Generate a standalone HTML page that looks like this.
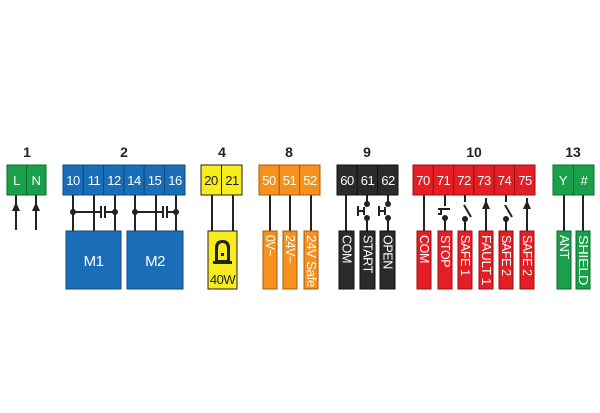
<!DOCTYPE html>
<html><head><meta charset="utf-8"><style>
html,body{margin:0;padding:0;background:#fff;}
svg{display:block;font-family:"Liberation Sans",sans-serif;}
</style></head><body>
<svg width="600" height="413" viewBox="0 0 600 413" xmlns="http://www.w3.org/2000/svg">
<g font-weight="bold" font-size="14" fill="#222" text-anchor="middle">
<text x="27" y="157">1</text><text x="124" y="157">2</text><text x="222" y="157">4</text>
<text x="289" y="157">8</text><text x="367" y="157">9</text><text x="474" y="157">10</text><text x="573" y="157">13</text>
</g>
<g stroke="#222" stroke-width="2" fill="none">
<line x1="16" y1="195" x2="16" y2="230"/><line x1="36" y1="195" x2="36" y2="230"/>
<line x1="73" y1="195" x2="73" y2="231"/><line x1="94" y1="195" x2="94" y2="231"/><line x1="115" y1="195" x2="115" y2="231"/>
<line x1="135" y1="195" x2="135" y2="231"/><line x1="156" y1="195" x2="156" y2="231"/><line x1="176" y1="195" x2="176" y2="231"/>
<path d="M73 212H101M105 212H115M101 206V218M105 206V218"/>
<path d="M135 212H163M167 212H176M163 206V218M167 206V218"/>
<line x1="212" y1="195" x2="212" y2="231"/><line x1="233" y1="195" x2="233" y2="231"/>
<line x1="270" y1="195" x2="270" y2="231"/><line x1="290" y1="195" x2="290" y2="231"/><line x1="311" y1="195" x2="311" y2="231"/>
<line x1="346" y1="195" x2="346" y2="231"/>
<path d="M367 195V204M367 218V231M388 195V204M388 218V231"/>
<path d="M358 206V216M358 211H364M364 207V215M379 206V216M379 211H385M385 207V215"/>
<line x1="424" y1="195" x2="424" y2="231"/>
<path d="M445 195V206M445 218V231M438 209H450M441 209V215M438 214H442"/>
<path d="M465 195V202M465 219V231M464 205L471 217"/>
<line x1="486" y1="198" x2="486" y2="231"/>
<path d="M506 195V202M506 219V231M505 205L512 217"/>
<line x1="527" y1="198" x2="527" y2="231"/>
<line x1="564" y1="195" x2="564" y2="231"/><line x1="583" y1="195" x2="583" y2="231"/>
</g>
<g fill="#222">
<polygon points="16,202 12,211 20,211"/><polygon points="36,202 32,211 40,211"/>
<polygon points="486,200 482,209 490,209"/><polygon points="527,200 523,209 531,209"/>
<circle cx="73" cy="212" r="3"/><circle cx="115" cy="212" r="3"/><circle cx="135" cy="212" r="3"/><circle cx="176" cy="212" r="3"/>
<circle cx="367" cy="204" r="3"/><circle cx="367" cy="218" r="3"/><circle cx="388" cy="204" r="3"/><circle cx="388" cy="218" r="3"/>
<circle cx="445" cy="218" r="3"/><circle cx="465" cy="219" r="3"/><circle cx="506" cy="219" r="3"/>
</g>
<g stroke-width="1">
<g fill="#1aa04a" stroke="#0d6b2e"><rect x="7" y="165" width="19.5" height="30"/><rect x="26.5" y="165" width="19.5" height="30"/>
<rect x="553" y="165" width="20.5" height="30"/><rect x="573.5" y="165" width="20.5" height="30"/></g>
<g fill="#1a6eb8" stroke="#0d4a80"><rect x="63" y="165" width="20.3" height="30"/><rect x="83.3" y="165" width="20.3" height="30"/><rect x="103.6" y="165" width="20.3" height="30"/><rect x="123.9" y="165" width="20.3" height="30"/><rect x="144.2" y="165" width="20.3" height="30"/><rect x="164.5" y="165" width="20.5" height="30"/>
<rect x="66" y="231" width="55" height="58"/><rect x="127" y="231" width="56" height="58"/></g>
<g fill="#f6ec1e" stroke="#222"><rect x="201" y="165" width="20.5" height="30"/><rect x="221.5" y="165" width="20.5" height="30"/><rect x="208" y="231" width="29" height="58"/></g>
<g fill="#f5921e" stroke="#a85a0a"><rect x="259" y="165" width="20.3" height="30"/><rect x="279.3" y="165" width="20.3" height="30"/><rect x="299.6" y="165" width="20.4" height="30"/>
<rect x="263" y="231" width="14" height="58"/><rect x="283" y="231" width="14" height="58"/><rect x="304" y="231" width="14" height="58"/></g>
<g fill="#2b2b2b" stroke="#111"><rect x="337" y="165" width="20.3" height="30"/><rect x="357.3" y="165" width="20.3" height="30"/><rect x="377.6" y="165" width="20.4" height="30"/>
<rect x="339" y="231" width="15" height="58"/><rect x="360" y="231" width="15" height="58"/><rect x="380" y="231" width="15" height="58"/></g>
<g fill="#e31e24" stroke="#9a0d10"><rect x="413" y="165" width="20.3" height="30"/><rect x="433.3" y="165" width="20.3" height="30"/><rect x="453.6" y="165" width="20.3" height="30"/><rect x="473.9" y="165" width="20.3" height="30"/><rect x="494.2" y="165" width="20.3" height="30"/><rect x="514.5" y="165" width="20.5" height="30"/>
<rect x="417" y="231" width="14" height="58"/><rect x="438" y="231" width="14" height="58"/><rect x="458" y="231" width="14" height="58"/><rect x="479" y="231" width="14" height="58"/><rect x="499" y="231" width="14" height="58"/><rect x="520" y="231" width="14" height="58"/></g>
<g fill="#1aa04a" stroke="#0d6b2e"><rect x="557" y="231" width="14" height="58"/><rect x="576" y="231" width="14" height="58"/></g>
</g>
<g font-size="13" text-anchor="middle" fill="#fff" letter-spacing="-0.5">
<text x="16.5" y="185">L</text><text x="36" y="185">N</text>
<text x="73" y="185">10</text><text x="94" y="185">11</text><text x="114" y="185">12</text><text x="134" y="185">14</text><text x="154.5" y="185">15</text><text x="175" y="185">16</text>
<text x="93.5" y="266" font-size="15">M1</text><text x="155" y="266" font-size="15">M2</text>
<text x="269" y="185">50</text><text x="289.5" y="185">51</text><text x="310" y="185">52</text>
<text x="347" y="185">60</text><text x="367.5" y="185">61</text><text x="388" y="185">62</text>
<text x="423" y="185">70</text><text x="443.5" y="185">71</text><text x="464" y="185">72</text><text x="484" y="185">73</text><text x="504.5" y="185">74</text><text x="525" y="185">75</text>
<text x="563" y="185">Y</text><text x="584" y="185">#</text>
</g>
<g font-size="13" text-anchor="middle" fill="#222" letter-spacing="-0.5">
<text x="211" y="185">20</text><text x="232" y="185">21</text>
<text x="222.5" y="284">40W</text>
</g>
<g fill="#222"><path d="M215 262V248Q215 240 222.5 240Q230 240 230 248V262Z"/><rect x="213" y="261" width="19" height="3"/></g>
<path d="M218 260V249Q218 243 222.5 243Q227 243 227 249V260Z" fill="#f6ec1e"/>
<rect x="221" y="253" width="3" height="3" fill="#222"/>
<g font-size="12.5" fill="#fff" letter-spacing="-0.4">
<text transform="translate(270,235) rotate(90)" dominant-baseline="central">0V~</text>
<text transform="translate(290,235) rotate(90)" dominant-baseline="central">24V~</text>
<text transform="translate(311,235) rotate(90)" dominant-baseline="central" textLength="52" lengthAdjust="spacingAndGlyphs">24V Safe</text>
<text transform="translate(346.5,235) rotate(90)" dominant-baseline="central">COM</text>
<text transform="translate(367.5,235) rotate(90)" dominant-baseline="central">START</text>
<text transform="translate(387.5,235) rotate(90)" dominant-baseline="central">OPEN</text>
<text transform="translate(424,235) rotate(90)" dominant-baseline="central">COM</text>
<text transform="translate(445,235) rotate(90)" dominant-baseline="central">STOP</text>
<text transform="translate(465,235) rotate(90)" dominant-baseline="central">SAFE 1</text>
<text transform="translate(486,235) rotate(90)" dominant-baseline="central" textLength="50" lengthAdjust="spacingAndGlyphs">FAULT 1</text>
<text transform="translate(506,235) rotate(90)" dominant-baseline="central">SAFE 2</text>
<text transform="translate(527,235) rotate(90)" dominant-baseline="central">SAFE 2</text>
<text transform="translate(564,235) rotate(90)" dominant-baseline="central">ANT</text>
<text transform="translate(583,235) rotate(90)" dominant-baseline="central" textLength="50" lengthAdjust="spacingAndGlyphs">SHIELD</text>
</g>
</svg>
</body></html>
